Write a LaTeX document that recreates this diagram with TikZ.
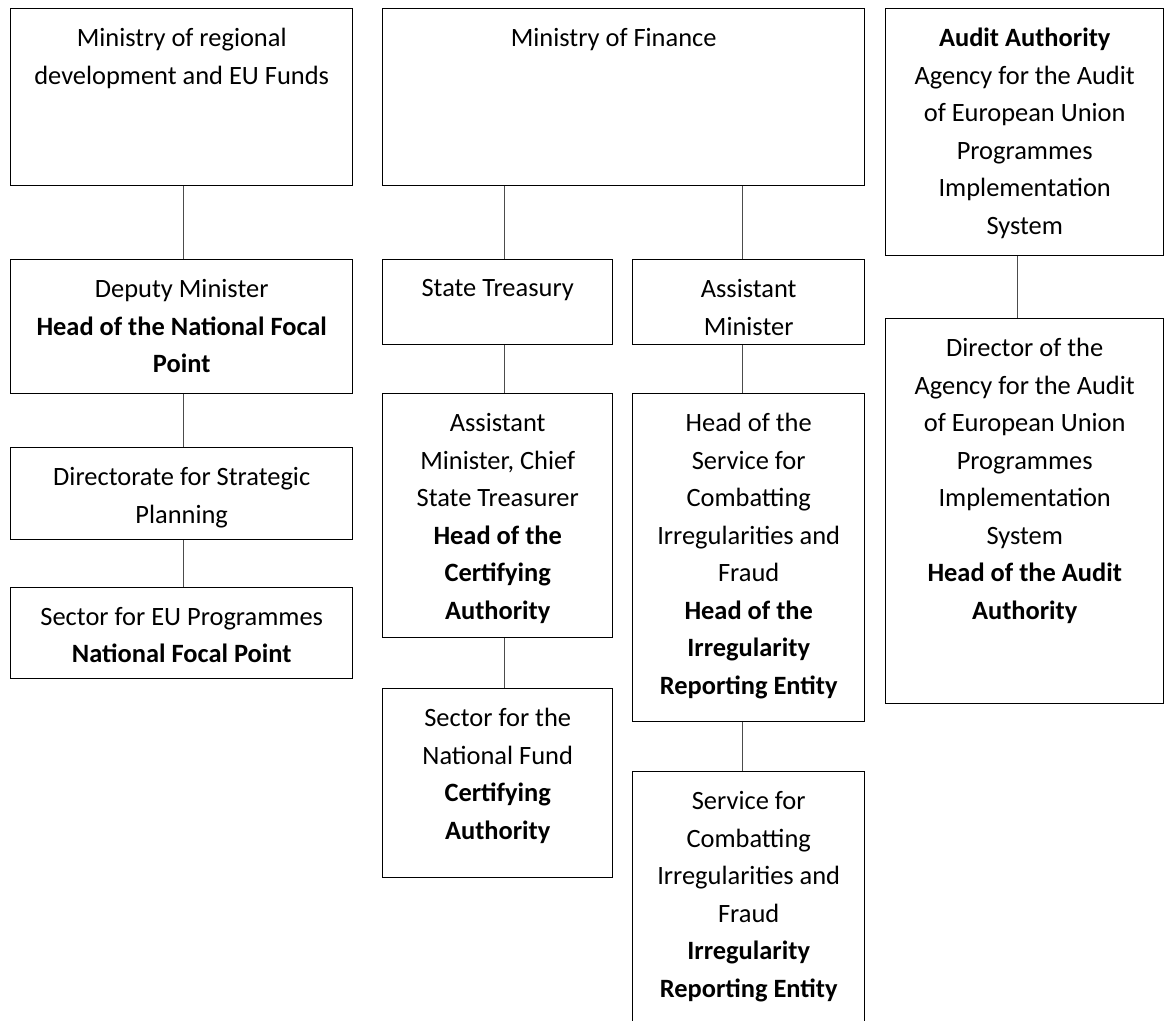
\documentclass[tikz,border=0pt]{standalone}
\usepackage{fontspec}
\setmainfont{Carlito}
\usetikzlibrary{positioning}
\tikzset{
  unit/.style={draw,line width=1pt,anchor=north west,inner sep=0pt},
  txt/.style={align=center,inner sep=0pt,font=\fontsize{18.8pt}{26.7pt}\selectfont},
  link/.style={draw=black!70,line width=0.6pt}
}
\begin{document}
\begin{tikzpicture}
\useasboundingbox (0,0) rectangle (29.1,-25.525);
% left column
\node[unit,minimum width=8.55cm,minimum height=4.425cm] (mrd) at (0.25,-0.2) {};
\node[unit,minimum width=8.55cm,minimum height=3.35cm] (dep) at (0.25,-6.475) {};
\node[unit,minimum width=8.55cm,minimum height=2.3cm] (dir) at (0.25,-11.175) {};
\node[unit,minimum width=8.55cm,minimum height=2.275cm] (sec) at (0.25,-14.675) {};
% ministry of finance
\node[unit,minimum width=12.05cm,minimum height=4.425cm] (mof) at (9.55,-0.2) {};
\node[unit,minimum width=5.75cm,minimum height=2.125cm] (tre) at (9.55,-6.475) {};
\node[unit,minimum width=5.8cm,minimum height=2.125cm] (asm) at (15.8,-6.475) {};
\node[unit,minimum width=5.75cm,minimum height=6.1cm] (cst) at (9.55,-9.825) {};
\node[unit,minimum width=5.8cm,minimum height=8.2cm] (hsc) at (15.8,-9.825) {};
\node[unit,minimum width=5.75cm,minimum height=4.725cm] (snf) at (9.55,-17.2) {};
\node[unit,minimum width=5.8cm,minimum height=6.375cm] (scf) at (15.8,-19.275) {};
% audit
\node[unit,minimum width=6.95cm,minimum height=6.175cm] (aud) at (22.125,-0.2) {};
\node[unit,minimum width=6.95cm,minimum height=9.625cm] (dag) at (22.125,-7.95) {};

% texts
\node[txt,below=0.5cm of mrd.north] (mrd-t) {Ministry of regional\\development and EU Funds};
\node[txt,below=0.5cm of dep.north] (dep-t) {Deputy Minister\\\textbf{Head of the National Focal}\\\textbf{Point}};
\node[txt,below=0.5cm of dir.north] (dir-t) {Directorate for Strategic\\Planning};
\node[txt,below=0.5cm of sec.north] (sec-t) {Sector for EU Programmes\\\textbf{National Focal Point}};
\node[txt,below=0.5cm of mof.north,xshift=-0.25cm] (mof-t) {Ministry of Finance};
\node[txt,below=0.5cm of tre.north] (tre-t) {State Treasury};
\node[txt,below=0.5cm of asm.north] (asm-t) {Assistant\\Minister};
\node[txt,below=0.5cm of cst.north] (cst-t) {Assistant\\Minister, Chief\\State Treasurer\\\textbf{Head of the}\\\textbf{Certifying}\\\textbf{Authority}};
\node[txt,below=0.5cm of hsc.north] (hsc-t) {Head of the\\Service for\\Combatting\\Irregularities and\\Fraud\\\textbf{Head of the}\\\textbf{Irregularity}\\\textbf{Reporting Entity}};
\node[txt,below=0.5cm of snf.north] (snf-t) {Sector for the\\National Fund\\\textbf{Certifying}\\\textbf{Authority}};
\node[txt,below=0.5cm of scf.north] (scf-t) {Service for\\Combatting\\Irregularities and\\Fraud\\\textbf{Irregularity}\\\textbf{Reporting Entity}};
\node[txt,below=0.5cm of aud.north] (aud-t) {\textbf{Audit Authority}\\Agency for the Audit\\of European Union\\Programmes\\Implementation\\System};
\node[txt,below=0.5cm of dag.north] (dag-t) {Director of the\\Agency for the Audit\\of European Union\\Programmes\\Implementation\\System\\\textbf{Head of the Audit}\\\textbf{Authority}};

% connectors
\draw[link] ([xshift=0.05cm]mrd.south) -- ([xshift=0.05cm]mrd.south |- dep.north);
\draw[link] ([xshift=0.05cm]dep.south) -- ([xshift=0.05cm]dep.south |- dir.north);
\draw[link] ([xshift=0.05cm]dir.south) -- ([xshift=0.05cm]dir.south |- sec.north);
\draw[link] ([xshift=0.16cm]tre.north |- mof.south) -- ([xshift=0.16cm]tre.north);
\draw[link] ([xshift=-0.15cm]asm.north |- mof.south) -- ([xshift=-0.15cm]asm.north);
\draw[link] ([xshift=0.16cm]tre.south) -- ([xshift=0.16cm]cst.north);
\draw[link] ([xshift=0.16cm]cst.south) -- ([xshift=0.16cm]snf.north);
\draw[link] ([xshift=-0.15cm]asm.south) -- ([xshift=-0.15cm]hsc.north);
\draw[link] ([xshift=-0.15cm]hsc.south) -- ([xshift=-0.15cm]scf.north);
\draw[link] ([xshift=-0.175cm]aud.south) -- ([xshift=-0.175cm]dag.north);
\end{tikzpicture}
\end{document}
